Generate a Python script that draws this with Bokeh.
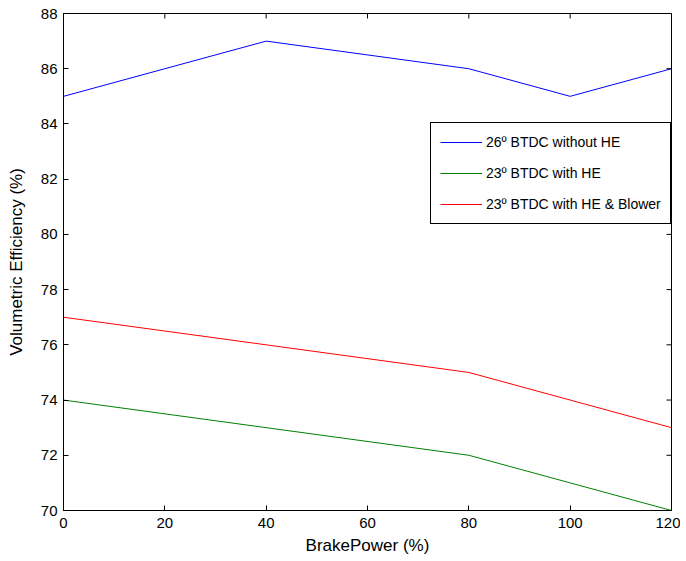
import math
from bokeh.plotting import figure
from bokeh.models import Range1d, FixedTicker, Legend, LegendItem
from bokeh.embed import file_html
from bokeh.resources import INLINE

brake_power = [0, 40, 80, 100, 120]
eff_26_without_he = [85, 87, 86, 85, 86]
eff_23_with_he = [74, 73, 72, 71, 70]
eff_23_with_he_blower = [77, 76, 75, 74, 73]
series_names = ["26º BTDC without HE", "23º BTDC with HE", "23º BTDC with HE & Blower"]
series_colors = ["#0000ff", "#008000", "#ff0000"]
x_ticks = [0, 20, 40, 60, 80, 100, 120]
y_ticks = [70, 72, 74, 76, 78, 80, 82, 84, 86, 88]
x_min, x_max = 0, 120
y_min, y_max = 70, 88

FONT = "Liberation Sans"

p = figure(width=680, height=560, output_backend="svg", toolbar_location=None,
           x_range=Range1d(x_min, x_max), y_range=Range1d(y_min, y_max),
           min_border_left=63, min_border_right=9, min_border_top=13, min_border_bottom=50)
p.xgrid.visible = False
p.ygrid.visible = False
p.outline_line_color = "black"
p.outline_line_width = 1
p.background_fill_color = "white"
p.border_fill_color = "white"

renderers = []
for ys, c in zip([eff_26_without_he, eff_23_with_he, eff_23_with_he_blower], series_colors):
    r = p.line(brake_power, ys, line_color=c, line_width=1)
    renderers.append(r)

for ax in [p.xaxis[0], p.yaxis[0]]:
    ax.axis_line_color = "black"
    ax.axis_line_width = 1
    ax.major_tick_in = 5
    ax.major_tick_out = 0
    ax.minor_tick_in = 0
    ax.minor_tick_out = 0
    ax.major_tick_line_color = "black"
    ax.major_label_text_font = FONT
    ax.major_label_text_font_size = "15px"
    ax.major_label_text_color = "black"
    ax.axis_label_text_font = FONT
    ax.axis_label_text_font_size = "17px"
    ax.axis_label_text_font_style = "normal"
    ax.axis_label_text_color = "black"

p.xaxis.ticker = FixedTicker(ticks=x_ticks)
p.yaxis.ticker = FixedTicker(ticks=y_ticks)
p.xaxis.axis_label = "BrakePower (%)"
p.yaxis.axis_label = "Volumetric Efficiency (%)"
p.xaxis.major_label_standoff = 7
p.yaxis.major_label_standoff = 6
p.xaxis.axis_label_standoff = 5
p.yaxis.axis_label_standoff = 12

# inward ticks on the top and right edges of the box
p.ray(x=x_ticks, y=[y_max] * len(x_ticks), length=5, length_units="screen",
      angle=-math.pi / 2, line_color="black", line_width=1)
p.ray(x=[x_max] * len(y_ticks), y=y_ticks, length=5, length_units="screen",
      angle=math.pi, line_color="black", line_width=1)

legend = Legend(items=[LegendItem(label=n, renderers=[r]) for n, r in zip(series_names, renderers)],
                location=(367, 286))
legend.border_line_color = "black"
legend.border_line_width = 1
legend.border_line_alpha = 1
legend.background_fill_alpha = 1
legend.label_text_font = FONT
legend.label_text_font_size = "14px"
legend.label_text_color = "black"
legend.glyph_width = 42
legend.glyph_height = 20
legend.label_height = 20
legend.spacing = 11
legend.padding = 9
legend.margin = 0
legend.label_standoff = 4
p.add_layout(legend, "center")

open("out.html", "w").write(file_html(p, INLINE))
